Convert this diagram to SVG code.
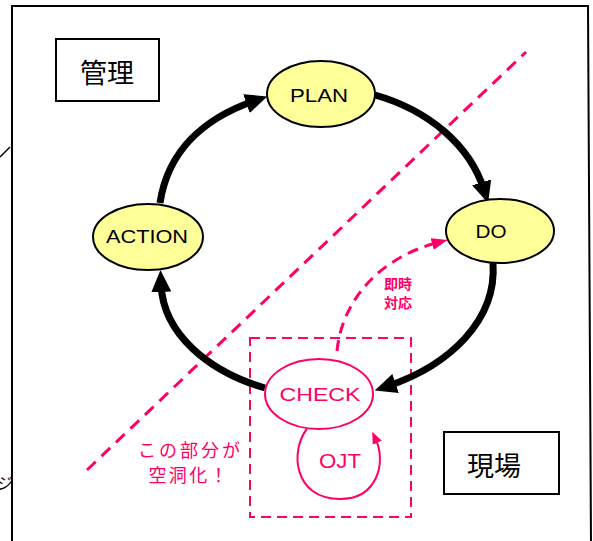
<svg xmlns="http://www.w3.org/2000/svg" width="593" height="541" viewBox="0 0 593 541">
<style>
.node ellipse{fill:#ffff99;stroke:#000;stroke-width:2}
.lbl{font-family:"Liberation Sans",Arial,sans-serif;fill:#000;text-anchor:middle}
.jp{font-family:"Noto Sans CJK JP","Noto Sans",sans-serif;text-anchor:middle}
.box{fill:#fff;stroke:#000;stroke-width:2}
.pk{fill:#ff0066}
.arc{fill:none;stroke:#000;stroke-width:7}
</style>
<defs>
<marker id="ah" markerUnits="userSpaceOnUse" markerWidth="22" markerHeight="20" viewBox="0 0 22 20" refX="8" refY="10" orient="auto">
<path d="M0,0 L22,10 L0,20 z" fill="#000"/>
</marker>
<marker id="ap" markerUnits="userSpaceOnUse" markerWidth="16" markerHeight="12" viewBox="0 0 16 12" refX="4" refY="6" orient="auto">
<path d="M0,0 L16,6 L0,12 z" fill="#ff0066"/>
</marker>
<marker id="ao" markerUnits="userSpaceOnUse" markerWidth="12" markerHeight="10" viewBox="0 0 12 10" refX="3" refY="5" orient="auto">
<path d="M0,0 L12,5 L0,10 z" fill="#ff0066"/>
</marker>
</defs>
<rect width="593" height="541" fill="#fff"/>
<g id="frame" fill="none" stroke="#000" stroke-width="2">
<polyline points="12,545 12,6 588,6 591,545"/>
<line x1="0" y1="157" x2="10" y2="147" stroke-width="1.5"/>
</g>
<text x="-3" y="489" font-family="Noto Sans CJK JP,sans-serif" font-size="16" fill="#000">ジ</text>
<g id="divider">
<line x1="87" y1="470" x2="526" y2="52" stroke="#ff0066" stroke-width="3" stroke-dasharray="12,8"/>
</g>
<g id="genba-area">
<rect x="250" y="338" width="161" height="179" fill="none" stroke="#ff0066" stroke-width="2" stroke-dasharray="10,6"/>
</g>
<g id="connectors">
<path class="arc" d="M375,95 C428,110 470,145 484,190" marker-end="url(#ah)"/>
<path class="arc" d="M493,263 C497,320 450,365 388,386" marker-end="url(#ah)"/>
<path class="arc" d="M265,388 C210,372 163,335 161,284" marker-end="url(#ah)"/>
<path class="arc" d="M160,203 C168,150 205,118 254,101" marker-end="url(#ah)"/>
<path d="M337,351 C342,300 380,258 436,243" fill="none" stroke="#ff0066" stroke-width="3" stroke-dasharray="11,7" marker-end="url(#ap)"/>
<path d="M307,429 C290,450 293,499 340,499 C378,499 386,462 376,440" fill="none" stroke="#ff0066" stroke-width="2" marker-end="url(#ao)"/>
</g>
<g id="kanri">
<rect class="box" x="56" y="39" width="103" height="62"/>
<text class="jp" x="107" y="83" font-size="27">管理</text>
</g>
<g id="genba">
<rect class="box" x="444" y="432" width="115" height="62"/>
<text class="jp" x="494" y="476" font-size="27">現場</text>
</g>
<g id="plan" class="node">
<ellipse cx="321" cy="94" rx="54" ry="33"/>
<text class="lbl" x="319" y="102" font-size="19" textLength="58" lengthAdjust="spacingAndGlyphs">PLAN</text>
</g>
<g id="do" class="node">
<ellipse cx="500" cy="231" rx="54" ry="32"/>
<text class="lbl" x="491" y="238" font-size="19" textLength="31" lengthAdjust="spacingAndGlyphs">DO</text>
</g>
<g id="action" class="node">
<ellipse cx="148" cy="237" rx="55" ry="33"/>
<text class="lbl" x="147" y="243" font-size="19" textLength="82" lengthAdjust="spacingAndGlyphs">ACTION</text>
</g>
<g id="check">
<ellipse cx="319" cy="394" rx="54" ry="35" fill="#fff" stroke="#ff0066" stroke-width="2"/>
<text x="320" y="401" font-family="Liberation Sans,Arial,sans-serif" font-size="19" fill="#ff0066" text-anchor="middle" textLength="81" lengthAdjust="spacingAndGlyphs">CHECK</text>
</g>
<g id="ojt">
<text x="340" y="468" font-family="Liberation Sans,Arial,sans-serif" font-size="20" fill="#ff0066" text-anchor="middle" textLength="42" lengthAdjust="spacingAndGlyphs">OJT</text>
</g>
<g id="sokuji">
<text class="jp pk" x="398" y="289" font-size="14" font-weight="bold">即時</text>
<text class="jp pk" x="398" y="308" font-size="14" font-weight="bold">対応</text>
</g>
<g id="kudoka">
<text class="jp pk" x="189" y="457" font-size="18" textLength="102" lengthAdjust="spacing">この部分が</text>
<text class="jp pk" x="188" y="482" font-size="18" textLength="79" lengthAdjust="spacing">空洞化！</text>
</g>
</svg>
